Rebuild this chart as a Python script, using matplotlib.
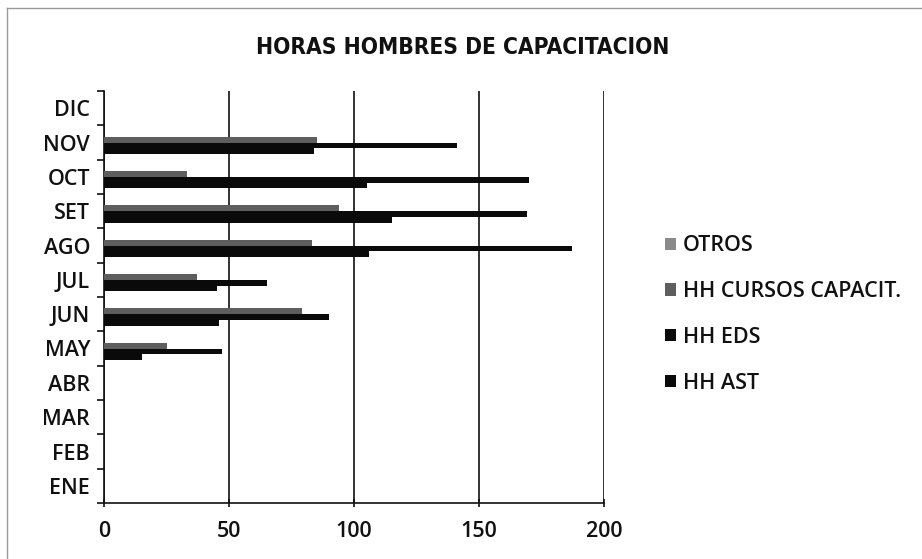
import matplotlib
matplotlib.use("Agg")
import matplotlib.pyplot as plt
from matplotlib.patches import Patch
from matplotlib.lines import Line2D
import numpy as np

# Months (bottom to top) and hours per series
months = ["ENE", "FEB", "MAR", "ABR", "MAY", "JUN", "JUL", "AGO", "SET", "OCT", "NOV", "DIC"]
hh_ast = [0, 0, 0, 0, 15, 46, 45, 106, 115, 105, 84, 0]
hh_eds = [0, 0, 0, 0, 47, 90, 65, 187, 169, 170, 141, 0]
hh_cursos = [0, 0, 0, 0, 25, 79, 37, 83, 94, 33, 85, 0]
otros = [0, 0, 0, 0, 0, 0, 0, 0, 0, 0, 0, 0]

series_names = ["HH AST", "HH EDS", "HH CURSOS CAPACIT.", "OTROS"]
series_values = [hh_ast, hh_eds, hh_cursos, otros]
series_colors = ["#0a0a0a", "#0a0a0a", "#5e5e5e", "#8a8a8a"]
x_ticks = [0, 50, 100, 150, 200]

W, H = 922, 559
fig = plt.figure(figsize=(W / 100, H / 100), dpi=100)
fig.patch.set_facecolor("white")

# Outer chart-area frame
fig.add_artist(Line2D([7 / W, 7 / W], [0, 1 - 8 / H], color="#9a9a9a", lw=1.0))
fig.add_artist(Line2D([7 / W, 1], [1 - 8 / H, 1 - 8 / H], color="#9a9a9a", lw=1.0))

left, right, top, bottom = 104, 604, 91, 503
ax = fig.add_axes([left / W, 1 - bottom / H, (right - left) / W, (bottom - top) / H])

# Clustered bars: first series at the bottom of each month group
y = np.arange(len(months))
bar_h = 1 / 6.0
offsets = [-1.5 * bar_h, -0.5 * bar_h, 0.5 * bar_h, 1.5 * bar_h]
for vals, off, col, name in zip(series_values, offsets, series_colors, series_names):
    ax.barh(y + off, vals, height=bar_h, color=col, edgecolor="none", zorder=3, label=name)

ax.set_xlim(0, 200)
ax.set_ylim(-0.5, len(months) - 0.5)
ax.set_xticks(x_ticks)
ax.set_xticklabels([str(t) for t in x_ticks])
ax.set_yticks(y)
ax.set_yticklabels(months)
ax.set_yticks(np.arange(-0.5, len(months)), minor=True)

label_font = "Open Sans"
label_size = 15.5
label_weight = "semibold"
for lab in ax.get_xticklabels() + ax.get_yticklabels():
    lab.set_fontfamily(label_font)
    lab.set_fontsize(label_size)
    lab.set_fontweight(label_weight)
    lab.set_color("#111111")

ax.tick_params(axis="y", which="major", length=0, pad=10)
ax.tick_params(axis="y", which="minor", length=5, width=1.2, color="#111111", direction="out")
ax.tick_params(axis="x", which="major", length=6, width=1.2, color="#111111", direction="inout", pad=10)

ax.grid(axis="x", color="#111111", lw=1.2, zorder=1)
for s in ["top", "right"]:
    ax.spines[s].set_visible(False)
for s in ["left", "bottom"]:
    ax.spines[s].set_color("#111111")
    ax.spines[s].set_linewidth(1.2)

fig.text(463 / W, 1 - 47 / H, "HORAS HOMBRES DE CAPACITACION",
         ha="center", va="center", fontsize=16.3, fontweight="bold", fontstretch="condensed",
         family=["DejaVu Sans"], color="#111111")

# Legend (top entry is the last series)
handles = [Patch(facecolor=c, edgecolor="none") for c in series_colors][::-1]
labels = series_names[::-1]
leg = fig.legend(handles, labels, loc="upper left", bbox_to_anchor=(646 / W, 1 - 216 / H),
                 frameon=False, handlelength=0.5, handleheight=0.5, handletextpad=0.3,
                 labelspacing=1.15,
                 prop={"family": label_font, "size": label_size, "weight": label_weight})
for t in leg.get_texts():
    t.set_color("#111111")

fig.savefig("out.png", dpi=100, facecolor="white")
